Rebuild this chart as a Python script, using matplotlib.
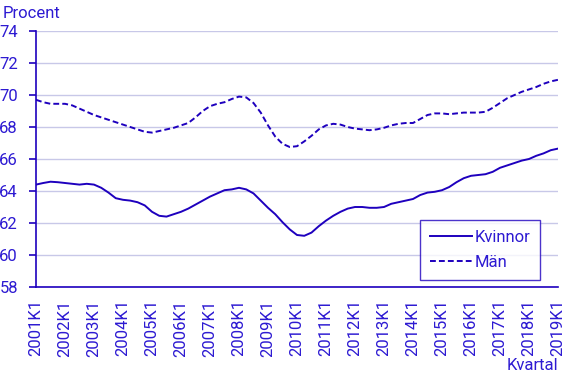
import matplotlib
matplotlib.use("Agg")
import matplotlib.pyplot as plt

BLUE = "#1e00be"
TEXT = "#2d1ad2"
GRID = "#c8c8e8"

years = list(range(2001, 2020))
quarters = [f"{y}K{q}" for y in years for q in range(1, 5)][:73]

kvinnor = [
    64.4, 64.5, 64.58, 64.55, 64.5, 64.45, 64.4, 64.45, 64.4, 64.2,
    63.9, 63.55, 63.45, 63.4, 63.3, 63.1, 62.7, 62.45, 62.4, 62.55,
    62.7, 62.9, 63.15, 63.4, 63.65, 63.85, 64.05, 64.1, 64.2, 64.1,
    63.85, 63.4, 62.95, 62.55, 62.05, 61.6, 61.25, 61.2, 61.4, 61.8,
    62.15, 62.45, 62.7, 62.9, 63.0, 63.0, 62.95, 62.95, 63.0, 63.2,
    63.3, 63.4, 63.5, 63.75, 63.9, 63.95, 64.05, 64.25, 64.55, 64.8,
    64.95, 65.0, 65.05, 65.2, 65.45, 65.6, 65.75, 65.9, 66.0, 66.2,
    66.35, 66.55, 66.65,
]
man = [
    69.7, 69.55, 69.45, 69.45, 69.45, 69.35, 69.15, 68.95, 68.75, 68.6,
    68.45, 68.3, 68.15, 68.0, 67.85, 67.7, 67.65, 67.75, 67.85, 67.95,
    68.1, 68.25, 68.6, 69.0, 69.3, 69.45, 69.55, 69.75, 69.9, 69.85,
    69.5, 68.9, 68.1, 67.4, 66.95, 66.75, 66.8, 67.1, 67.45, 67.85,
    68.1, 68.2, 68.15, 68.0, 67.9, 67.85, 67.8, 67.85, 67.95, 68.1,
    68.2, 68.25, 68.25, 68.5, 68.75, 68.85, 68.85, 68.8, 68.85, 68.9,
    68.9, 68.9, 68.95, 69.2, 69.5, 69.8, 70.0, 70.2, 70.35, 70.5,
    70.7, 70.85, 70.95,
]

plt.rcParams["font.family"] = ["Roboto", "DejaVu Sans"]
plt.rcParams["font.size"] = 12

fig = plt.figure(figsize=(5.67, 3.78), dpi=100)
ax = fig.add_axes([36 / 567, 1 - 287 / 378, 522 / 567, 256 / 378])

x = list(range(len(quarters)))
ax.plot(x, kvinnor, color=BLUE, lw=1.4, label="Kvinnor")
ax.plot(x, man, color=BLUE, lw=1.4, dashes=(3, 1.6), label="Män")

ax.set_xlim(0, len(quarters) - 1)
ax.set_ylim(58, 74)
ax.set_yticks(range(58, 75, 2))
ax.grid(axis="y", color=GRID, lw=1)
ax.set_axisbelow(True)

ax.set_xticks(x[::4])
ax.set_xticklabels(quarters[::4], rotation=90)
ax.set_xticks(x[::12], minor=True)
ax.tick_params(axis="x", which="major", length=0, pad=9, labelcolor=TEXT)
ax.tick_params(axis="x", which="minor", length=5, width=1.2, color=BLUE)
ax.tick_params(axis="y", length=5, width=1.2, color=BLUE, labelcolor=TEXT, pad=8)

for s in ["top", "right"]:
    ax.spines[s].set_visible(False)
for s in ["left", "bottom"]:
    ax.spines[s].set_color(BLUE)
    ax.spines[s].set_linewidth(1.2)

leg = ax.legend(loc="upper right", bbox_to_anchor=(0.9655, 0.262),
                borderaxespad=0, frameon=True, fancybox=False,
                handlelength=2.5, handletextpad=0.15, labelspacing=0.6,
                borderpad=0.6)
leg.get_frame().set_edgecolor(BLUE)
leg.get_frame().set_linewidth(1.0)
for t in leg.get_texts():
    t.set_color(TEXT)

fig.text(3 / 567, 1 - 14 / 378, "Procent", color=TEXT, va="center", ha="left")
fig.text(558 / 567, 1 - 366 / 378, "Kvartal", color=TEXT, va="center", ha="right")

fig.savefig("out.png", dpi=100)
